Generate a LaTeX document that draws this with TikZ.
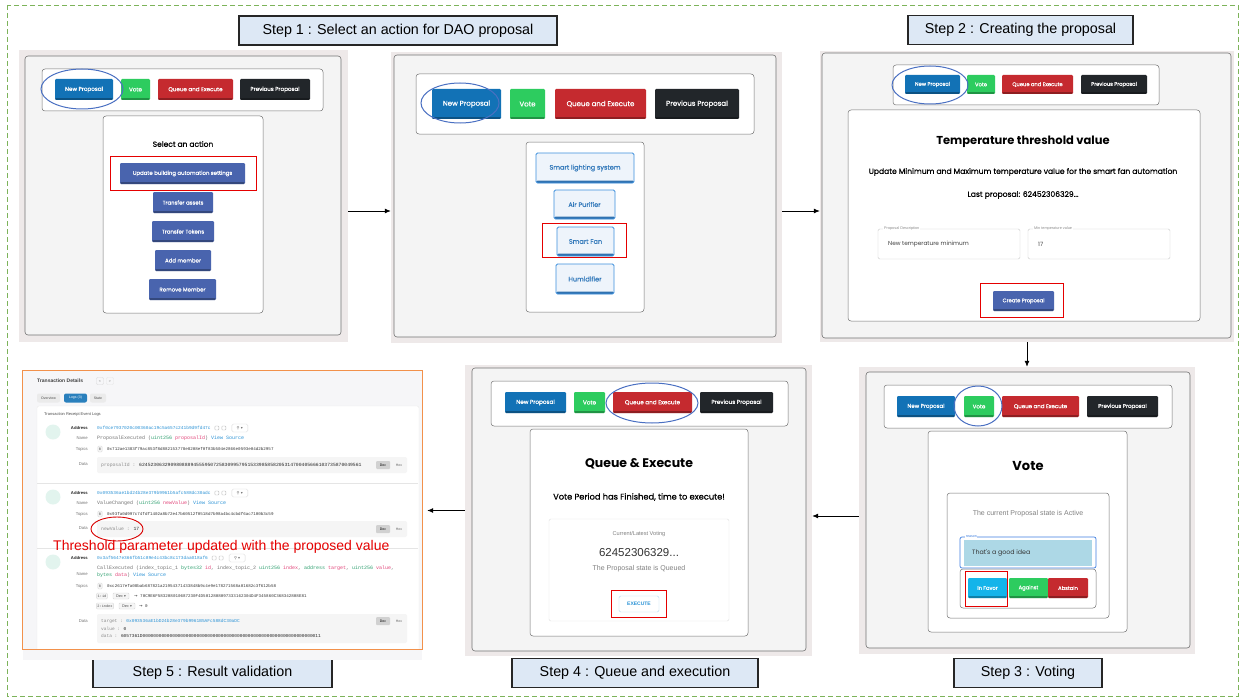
\documentclass[tikz,border=0pt]{standalone}
\usepackage{fontspec}
\setmainfont{Liberation Sans}
\newfontfamily\uifont{Poppins}
\newfontfamily\uimed{Poppins}[FakeBold=0.6]
\newfontfamily\logfont{Liberation Mono}
\newfontfamily\symfont{DejaVu Sans}
\usetikzlibrary{arrows.meta}

\definecolor{stepblue}{HTML}{DDE8F5}
\definecolor{framegreen}{HTML}{7DB35A}
\definecolor{shotbg}{HTML}{EEE9E9}
\definecolor{winbg}{HTML}{F4F4F4}
\definecolor{npblue}{HTML}{1272B6}
\definecolor{votegreen}{HTML}{2DCC5F}
\definecolor{qered}{HTML}{C52A2F}
\definecolor{prevblack}{HTML}{22262A}
\definecolor{actblue}{HTML}{4964AE}
\definecolor{devline}{HTML}{3D8FDC}
\definecolor{devfill}{HTML}{EEF4FB}
\definecolor{ringblue}{HTML}{4A70C2}
\definecolor{logorange}{HTML}{F2914B}
\definecolor{favorcyan}{HTML}{14B4EA}
\definecolor{reasonfill}{HTML}{ADD8E6}
\definecolor{reasonline}{HTML}{3F7FE0}
\definecolor{hexblue}{HTML}{2C93D6}
\definecolor{typegreen}{HTML}{2FA070}
\definecolor{argred}{HTML}{E2467A}
\definecolor{mint}{HTML}{E2F4EE}
\definecolor{logbg}{HTML}{F6F6F8}

\tikzset{
  ui/.style={font=\uimed\fontsize{#1}{#1}\selectfont},
  uil/.style={font=\uifont\fontsize{#1}{#1}\selectfont},
  uib/.style={font=\uifont\bfseries\fontsize{#1}{#1}\selectfont},
  mono/.style={font=\logfont\fontsize{#1}{#1}\selectfont},
  sans/.style={font=\fontsize{#1}{#1}\selectfont},
  stepbox/.style={draw=black!85, line width=1.1pt, fill=stepblue, inner sep=0pt, minimum height=29pt, sans=14.3},
  shot/.style={fill=shotbg, inner sep=0pt},
  winbox/.style={draw=black!55, fill=winbg, rounded corners=3pt, line width=.6pt},
  navbox/.style={draw=black!55, fill=white, rounded corners=3pt, line width=.5pt},
  cardbox/.style={draw=black!55, fill=white, rounded corners=3pt, line width=.5pt},
  uibtn/.style={fill=#1, text=white, rounded corners=1.2pt, inner sep=0pt,
    path picture={\fill[black,opacity=.28] (path picture bounding box.south west) rectangle ([yshift=1.8pt]path picture bounding box.south east);}},
  devbtn/.style={draw=devline, fill=devfill, text=devline!85!black, line width=.8pt, rounded corners=1.5pt, inner sep=0pt,
    path picture={\fill[devline!80!black] (path picture bounding box.south west) rectangle ([yshift=2.5pt]path picture bounding box.south east);}},
  redmark/.style={draw=red!90!black, line width=.9pt},
  bluering/.style={draw=ringblue, line width=1pt},
  flow/.style={-{Latex[length=6pt,width=5pt]}, line width=.8pt},
  lbl/.style={anchor=east, inner sep=0pt, sans=4.2, text=black!55},
  lblb/.style={anchor=east, inner sep=0pt, font=\bfseries\fontsize{4.2}{4.2}\selectfont, text=black!85},
  val/.style={anchor=west, inner sep=0pt},
  badge/.style={circle, fill=mint, minimum size=15pt, inner sep=0pt},
  tinybox/.style={draw=black!15, fill=black!4, rounded corners=1pt, minimum height=6pt, inner sep=1pt, mono=3.6, text=black!70},
  decbtn/.style={fill=black!18, rounded corners=1pt, minimum width=14pt, minimum height=8pt, inner sep=0pt, sans=3.5},
  hexbtn/.style={rounded corners=1pt, minimum width=12pt, minimum height=8pt, inner sep=0pt, sans=3.5, text=black!60},
  icon/.style={draw=black!25, rounded corners=.8pt, minimum size=4pt, inner sep=0pt},
  findbox/.style={draw=black!15, rounded corners=1.5pt, minimum width=16pt, minimum height=8pt, inner sep=0pt, text=black!55, font=\symfont\fontsize{4}{4}\selectfont},
}

\begin{document}
\begin{tikzpicture}[x=1pt,y=-1pt]
\useasboundingbox (0,0) rectangle (1241,698);
\draw[framegreen, dash pattern=on 5pt off 3pt, line width=.8pt] (7,5) rectangle (1238,696);

% step titles
\node[stepbox, minimum width=318pt] (step1) at (398,30.5) {Step 1 : Select an action for DAO proposal};
\node[stepbox, minimum width=225pt] (step2) at (1020.5,30) {Step 2 : Creating the proposal};
\node[stepbox, minimum width=148pt] (step3) at (1028,673) {Step 3 : Voting};
\node[stepbox, minimum width=246pt] (step4) at (635,673) {Step 4 : Queue and execution};
\node[stepbox, minimum width=239pt] (step5) at (212.5,673) {Step 5 : Result validation};

% screenshots
\node[shot, minimum width=329pt, minimum height=292pt] (shot1) at (183.5,196) {};
\node[shot, minimum width=391pt, minimum height=291pt] (shot2) at (586.5,197.5) {};
\node[shot, minimum width=414pt, minimum height=291pt] (shot3) at (1027,196.5) {};
\node[shot, minimum width=336pt, minimum height=287pt] (shot4) at (1027,510.5) {};
\node[shot, minimum width=347pt, minimum height=291pt] (shot5) at (638.5,510.5) {};
\node[fill=logbg, inner sep=0pt, minimum width=399pt, minimum height=278pt] (shot6) at (222.5,510) {};

% step 1 : action list
\draw[winbox] (25,56) rectangle (341,335);
\draw[navbox] (42,69) rectangle (323,111);
\node[uibtn=npblue, minimum width=58pt, minimum height=21pt, ui=5.6] (a-new) at (84,89.5) {New Proposal};
\node[uibtn=votegreen, minimum width=29pt, minimum height=21pt, ui=5.6] (a-vote) at (135.5,89.5) {Vote};
\node[uibtn=qered, minimum width=75pt, minimum height=21pt, ui=5.6] (a-queue) at (195.5,89.5) {Queue and Execute};
\node[uibtn=prevblack, minimum width=70pt, minimum height=21pt, ui=5.6] (a-prev) at (275,89.5) {Previous Proposal};
\draw[bluering] (82,89) ellipse [x radius=41pt, y radius=20pt];
\draw[cardbox] (103,116) rectangle (263,313);
\node[ui=7.5] (a-title) at (183,144) {Select an action};
\node[uibtn=actblue, minimum width=125pt, minimum height=21pt, ui=5.4] (a-update) at (182.5,173.5) {Update building automation settings};
\draw[redmark] (110,156) rectangle (256,190);
\node[uibtn=actblue, minimum width=60pt, minimum height=21pt, ui=5.4] (a-assets) at (183,202.5) {Transfer assets};
\node[uibtn=actblue, minimum width=62pt, minimum height=21pt, ui=5.4] (a-tokens) at (183,231.5) {Transfer Tokens};
\node[uibtn=actblue, minimum width=56pt, minimum height=21pt, ui=5.4] (a-member) at (183,260.5) {Add member};
\node[uibtn=actblue, minimum width=67pt, minimum height=21pt, ui=5.4] (a-remove) at (182.5,289.5) {Remove Member};

% step 1 : device list
\draw[winbox] (394,55) rectangle (776,337);
\draw[navbox] (416,74) rectangle (754,134);
\node[uibtn=npblue, minimum width=69pt, minimum height=30pt, ui=7] (b-new) at (466.5,104) {New Proposal};
\node[uibtn=votegreen, minimum width=35pt, minimum height=30pt, ui=7] (b-vote) at (527.5,104) {Vote};
\node[uibtn=qered, minimum width=91pt, minimum height=30pt, ui=7] (b-queue) at (600.5,104) {Queue and Execute};
\node[uibtn=prevblack, minimum width=84pt, minimum height=30pt, ui=7] (b-prev) at (697,104) {Previous Proposal};
\draw[bluering] (460,103) ellipse [x radius=39pt, y radius=20pt];
\draw[cardbox] (526,142) rectangle (644,312);
\node[devbtn, minimum width=98pt, minimum height=30pt, ui=6.5] (b-light) at (585,168) {Smart lighting system};
\node[devbtn, minimum width=61pt, minimum height=29pt, ui=6.5] (b-air) at (584.5,204.5) {Air Purifier};
\node[devbtn, minimum width=57pt, minimum height=29pt, ui=6.5] (b-fan) at (585.5,241.5) {Smart Fan};
\draw[redmark] (542,223) rectangle (626,257);
\node[devbtn, minimum width=58pt, minimum height=30pt, ui=6.5] (b-humid) at (585,279) {Humidifier};

% step 2 : proposal form
\draw[winbox] (822,53) rectangle (1231,338);
\draw[navbox] (893,65) rectangle (1159,105);
\node[uibtn=npblue, minimum width=55pt, minimum height=19pt, ui=5.2] (c-new) at (932.5,84.5) {New Proposal};
\node[uibtn=votegreen, minimum width=28pt, minimum height=19pt, ui=5.2] (c-vote) at (981,84.5) {Vote};
\node[uibtn=qered, minimum width=71pt, minimum height=19pt, ui=5.2] (c-queue) at (1037.5,84.5) {Queue and Execute};
\node[uibtn=prevblack, minimum width=66pt, minimum height=19pt, ui=5.2] (c-prev) at (1114,84.5) {Previous Proposal};
\draw[bluering] (930,85) ellipse [x radius=38pt, y radius=19pt];
\draw[cardbox] (848,110) rectangle (1200,321);
\node[uib=11.5] (c-title) at (1023,142) {Temperature threshold value};
\node[ui=7.6] (c-text) at (1023,172) {Update Minimum and Maximum temperature value for the smart fan automation};
\node[ui=7.6] (c-last) at (1023,195) {Last proposal: 62452306329...};
\draw[black!20, fill=white, rounded corners=1.5pt] (878,229) rectangle (1020,259);
\draw[black!20, fill=white, rounded corners=1.5pt] (1028,229) rectangle (1170,259);
\node[val, fill=white, inner sep=1pt, sans=3.8, text=black!45] (c-desc) at (883,229) {Proposal Description};
\node[val, fill=white, inner sep=1pt, sans=3.8, text=black!45] (c-min) at (1033,229) {Min temperature value};
\node[val, uil=5.8, text=black!75] (c-descv) at (888,244) {New temperature minimum};
\node[val, uil=5.8, text=black!75] (c-minv) at (1038,244) {17};
\node[uibtn=actblue, minimum width=61pt, minimum height=20pt, ui=5.2] (c-create) at (1023.5,301) {Create Proposal};
\draw[redmark] (980,283) rectangle (1063,317);

% step 3 : vote
\draw[winbox] (866,372) rectangle (1190,648);
\draw[navbox] (884,385) rectangle (1172,428);
\node[uibtn=npblue, minimum width=58pt, minimum height=21pt, ui=5.5] (d-new) at (926,406.5) {New Proposal};
\node[uibtn=votegreen, minimum width=30pt, minimum height=21pt, ui=5.5] (d-vote) at (979,406.5) {Vote};
\node[uibtn=qered, minimum width=77pt, minimum height=21pt, ui=5.5] (d-queue) at (1040.5,406.5) {Queue and Execute};
\node[uibtn=prevblack, minimum width=71pt, minimum height=21pt, ui=5.5] (d-prev) at (1122.5,406.5) {Previous Proposal};
\draw[bluering] (978,406) ellipse [x radius=24pt, y radius=20pt];
\draw[cardbox] (928,431) rectangle (1127,632);
\node[uib=13] (d-title) at (1028,466) {Vote};
\draw[black!55, fill=white, rounded corners=3pt, line width=.5pt] (947,493) rectangle (1109,618);
\node[sans=7, text=black!50] (d-state) at (1028,514) {The current Proposal state is Active};
\fill[reasonfill] (964,540) rectangle (1092,566);
\draw[reasonline, line width=.7pt, rounded corners=2pt] (960,537) rectangle (1096,568);
\node[val, fill=white, inner sep=.6pt, sans=3.6, text=reasonline] (d-reason) at (965,537) {reason};
\node[val, uil=6.3, text=black!80] (d-idea) at (972,553) {That's a good idea};
\draw[black!55, fill=white, rounded corners=3pt, line width=.5pt] (960,569) rectangle (1096,608);
\node[uibtn=favorcyan, minimum width=39pt, minimum height=20pt, ui=5.2] (d-favor) at (987.5,588) {In Favor};
\node[uibtn=votegreen, minimum width=39pt, minimum height=20pt, ui=5.2] (d-against) at (1028.5,588) {Against};
\node[uibtn=qered, minimum width=40pt, minimum height=20pt, ui=5.2] (d-abstain) at (1068,588) {Abstain};
\draw[redmark] (965,571) rectangle (1007,606);

% step 4 : queue and execute
\draw[winbox] (472,368) rectangle (806,651);
\draw[navbox] (491,381) rectangle (788,426);
\node[uibtn=npblue, minimum width=61pt, minimum height=21pt, ui=5.7] (e-new) at (535.5,402.5) {New Proposal};
\node[uibtn=votegreen, minimum width=31pt, minimum height=21pt, ui=5.7] (e-vote) at (589.5,402.5) {Vote};
\node[uibtn=qered, minimum width=79pt, minimum height=21pt, ui=5.7] (e-queue) at (652.5,402.5) {Queue and Execute};
\node[uibtn=prevblack, minimum width=73pt, minimum height=21pt, ui=5.7] (e-prev) at (736.5,402.5) {Previous Proposal};
\draw[bluering] (652,403) ellipse [x radius=46pt, y radius=20pt];
\draw[cardbox] (530,429) rectangle (748,636);
\node[uib=12.5] (e-title) at (639,464) {Queue \& Execute};
\node[ui=8.3] (e-text) at (639,497) {Vote Period has Finished, time to execute!};
\draw[black!12, fill=white, rounded corners=1.5pt] (549,519) rectangle (729,621);
\node[sans=5.6, text=black!50] (e-current) at (639,534) {Current/Latest Voting};
\node[sans=11.5, text=black!80] (e-id) at (639,553) {62452306329...};
\node[sans=7, text=black!50] (e-queued) at (639,569) {The Proposal state is Queued};
\node[draw=hexblue!35, fill=white, rounded corners=1.5pt, minimum width=40pt, minimum height=16pt, inner sep=0pt, font=\bfseries\fontsize{5}{5}\selectfont, text=hexblue] (e-exec) at (639,604) {EXECUTE};
\draw[redmark] (611,590) rectangle (666,617);

% step 5 : event logs
\draw[fill=white, draw=black!8, rounded corners=2pt] (37,406) rectangle (419,655);
\node[val, font=\bfseries\fontsize{5}{5}\selectfont, text=black!75] (tx-title) at (37,381) {Transaction Details};
\node[draw=black!15, rounded corners=1pt, minimum size=7pt, inner sep=0pt, sans=3.5, text=black!50] (tx-back) at (100,381) {<};
\node[draw=black!10, rounded corners=1pt, minimum size=7pt, inner sep=0pt, sans=3.5, text=black!50] (tx-next) at (110,381) {>};
\node[fill=black!8, rounded corners=2pt, minimum width=23pt, minimum height=9pt, inner sep=0pt, sans=3.5, text=black!70] (tx-over) at (48.5,398) {Overview};
\node[fill=npblue!90, rounded corners=2pt, minimum width=23pt, minimum height=9pt, inner sep=0pt, sans=3.5, text=white] (tx-logs) at (75.5,398) {Logs (3)};
\node[fill=black!8, rounded corners=2pt, minimum width=16pt, minimum height=9pt, inner sep=0pt, sans=3.5, text=black!70] (tx-state) at (98,398) {State};
\node[val, sans=4, text=black!70] (tx-receipt) at (44,414) {Transaction Receipt Event Logs};

% log 1
\node[badge] (l1-badge) at (53,432) {};
\node[lblb] (l1-addrl) at (88,428) {Address};
\node[lbl] (l1-namel) at (88,438) {Name};
\node[lbl] (l1-topicl) at (88,449) {Topics};
\node[lbl] (l1-datal) at (88,464) {Data};
\node[val, mono=4.5, text=hexblue] (l1-addr) at (97,428) {0xf0ce7937020c00360ac19c5a657c241b9d9fd47c};
\node[icon] (l1-copy) at ([xshift=6pt]l1-addr.east) {};
\node[icon] (l1-link) at ([xshift=13pt]l1-addr.east) {};
\node[findbox] (l1-find) at ([xshift=29pt]l1-addr.east) {⚲ ▾};
\node[val, mono=5, text=black!55] (l1-name) at (97,438) {ProposalExecuted (\textcolor{typegreen}{uint256} \textcolor{argred}{proposalId}) \textcolor{hexblue}{View Source}};
\node[tinybox] (l1-t0) at (100,449) {0};
\node[val, mono=4.2, text=black!80] (l1-topic) at (107,449) {0x712ae1383f79ac853f8d882153778e8208ef0f83b504e2866e0593e04d2b2957};
\fill[black!4, rounded corners=2pt] (97,457) rectangle (407,473);
\node[val, mono=4.75, text=black!45] (l1-data) at (101,465) {proposalId : \textcolor{black!85}{624523063290980888945559507258309957951533985858205314700405666103735870049561}};
\node[decbtn] (l1-dec) at (383,465) {Dec};
\node[hexbtn] (l1-hex) at (399,465) {Hex};
\draw[black!10] (37,483) -- (418,483);

% log 2
\node[badge] (l2-badge) at (53,497) {};
\node[lblb] (l2-addrl) at (88,493) {Address};
\node[lbl] (l2-namel) at (88,503) {Name};
\node[lbl] (l2-topicl) at (88,514) {Topics};
\node[lbl] (l2-datal) at (88,528) {Data};
\node[val, mono=4.5, text=hexblue] (l2-addr) at (97,493) {0x093536ae1bd24b28e379b9961b5afc588dc30adc};
\node[icon] (l2-copy) at ([xshift=6pt]l2-addr.east) {};
\node[icon] (l2-link) at ([xshift=13pt]l2-addr.east) {};
\node[findbox] (l2-find) at ([xshift=29pt]l2-addr.east) {⚲ ▾};
\node[val, mono=5, text=black!55] (l2-name) at (97,503) {ValueChanged (\textcolor{typegreen}{uint256} \textcolor{argred}{newValue}) \textcolor{hexblue}{View Source}};
\node[tinybox] (l2-t0) at (100,514) {0};
\node[val, mono=4.2, text=black!80] (l2-topic) at (107,514) {0x93fa0d997c74fdf1402a8b72e47b60512f0518d7b98a4bc4cbdf6ac7100b3c59};
\fill[black!4, rounded corners=2pt] (97,521) rectangle (407,537);
\node[val, mono=4.75, text=black!45] (l2-data) at (101,529) {newValue : \textcolor{black!85}{17}};
\node[decbtn] (l2-dec) at (383,529) {Dec};
\node[hexbtn] (l2-hex) at (399,529) {Hex};
\draw[red!85!black, line width=.9pt] (117,529) ellipse [x radius=26pt, y radius=12pt];
\draw[black!10] (37,548) -- (418,548);

% log 3
\node[badge] (l3-badge) at (53,562) {};
\node[lblb] (l3-addrl) at (88,558) {Address};
\node[lbl] (l3-namel) at (88,574) {Name};
\node[lbl] (l3-topicl) at (88,586) {Topics};
\node[lbl] (l3-datal) at (88,621) {Data};
\node[val, mono=4.5, text=hexblue] (l3-addr) at (97,558) {0x3af5647e366fb51c89e4c43bc8c173daa018af6};
\node[icon] (l3-copy) at ([xshift=6pt]l3-addr.east) {};
\node[icon] (l3-link) at ([xshift=13pt]l3-addr.east) {};
\node[findbox] (l3-find) at ([xshift=29pt]l3-addr.east) {⚲ ▾};
\node[val, mono=5, text=black!55] (l3-name) at (97,568) {CallExecuted (index\_topic\_1 \textcolor{typegreen}{bytes32} \textcolor{argred}{id}, index\_topic\_2 \textcolor{typegreen}{uint256} \textcolor{argred}{index}, \textcolor{typegreen}{address} \textcolor{argred}{target}, \textcolor{typegreen}{uint256} \textcolor{argred}{value},};
\node[val, mono=5, text=black!55] (l3-name2) at (97,575) {\textcolor{typegreen}{bytes} \textcolor{argred}{data}) \textcolor{hexblue}{View Source}};
\node[tinybox] (l3-t0) at (100,586) {0};
\node[val, mono=4.2, text=black!80] (l3-topic) at (107,586) {0xc2617efa08bab687821a21954371433848b9c4e9e178271568a01682c3f612b58};
\node[tinybox, minimum width=10pt] (l3-t1) at (102,596) {1:id};
\node[tinybox, minimum width=16pt, font=\symfont\fontsize{3.6}{3.6}\selectfont] (l3-d1) at (121,596) {Dec ▾};
\node[val, mono=4.2, text=black!80] (l3-topic1) at (134,596) {{\symfont →} 70C9E6F583208010687230F4D5012808097333162304D4F345860C368342808E81};
\node[tinybox, minimum width=16pt] (l3-t2) at (105,606) {2:index};
\node[tinybox, minimum width=16pt, font=\symfont\fontsize{3.6}{3.6}\selectfont] (l3-d2) at (127,606) {Dec ▾};
\node[val, mono=4.2, text=black!80] (l3-topic2) at (139,606) {{\symfont →} 0};
\fill[black!4, rounded corners=2pt] (97,614) rectangle (407,643);
\node[val, mono=4.5, text=black!45] (l3-target) at (101,621) {target : \textcolor{hexblue}{0x093536aE1bD24b28e379b9961B5AFc588dC30aDC}};
\node[val, mono=4.5, text=black!45] (l3-value) at (101,628.5) {value : \textcolor{black!85}{0}};
\node[val, mono=4.5, text=black!45] (l3-calldata) at (101,636) {data : \textcolor{black!85}{6057361D000000000000000000000000000000000000000000000000000000000000000011}};
\node[decbtn] (l3-dec) at (383,621) {Dec};
\node[hexbtn] (l3-hex) at (399,621) {Hex};

\fill[logbg] (23,649) rectangle (422,660);
\draw[logorange, line width=1.2pt] (shot6.north west) rectangle (shot6.south east);
\node[val, sans=14, text=red!90!black] (l-note) at (53,547) {Threshold parameter updated with the proposed value};

% flow between the steps
\draw[flow] ([yshift=-15pt]shot1.east) -- ([yshift=-15pt]shot1.east -| shot2.west);
\draw[flow] ([yshift=-13.5pt]shot2.east) -- ([yshift=-13.5pt]shot2.east -| shot3.west);
\draw[flow] (shot3.south) -- (shot4.north);
\draw[flow] ([yshift=-5.5pt]shot4.west) -- ([yshift=-5.5pt]shot4.west -| shot5.east);
\draw[flow, shorten >=5pt] (shot5.west) -- (shot5.west -| shot6.east);
\end{tikzpicture}
\end{document}
